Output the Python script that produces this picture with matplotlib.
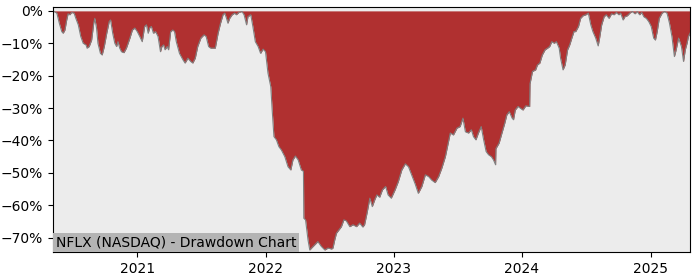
import pandas as pd
import matplotlib
matplotlib.use("Agg")
import matplotlib.pyplot as plt
import matplotlib.dates as mdates
from matplotlib.ticker import PercentFormatter

# Drawdown de NFLX (en %)
dates = [
    "2020-05-06", "2020-05-17", "2020-05-24", "2020-05-31", "2020-06-04", "2020-06-09",
    "2020-06-14", "2020-06-18", "2020-06-23", "2020-06-28", "2020-07-05", "2020-07-10",
    "2020-07-17", "2020-07-24", "2020-07-31", "2020-08-08", "2020-08-11", "2020-08-17",
    "2020-08-24", "2020-08-30", "2020-09-02", "2020-09-07", "2020-09-11", "2020-09-18",
    "2020-09-23", "2020-09-29", "2020-10-06", "2020-10-13", "2020-10-17", "2020-10-23",
    "2020-10-29", "2020-11-03", "2020-11-07", "2020-11-12", "2020-11-17", "2020-11-24",
    "2020-12-01", "2020-12-11", "2020-12-18", "2020-12-25",
    "2021-01-01", "2021-01-08", "2021-01-15", "2021-01-22", "2021-01-27", "2021-02-01",
    "2021-02-05", "2021-02-10", "2021-02-16", "2021-02-22", "2021-03-01", "2021-03-08",
    "2021-03-12", "2021-03-17", "2021-03-21", "2021-03-27", "2021-03-31", "2021-04-06",
    "2021-04-12", "2021-04-17", "2021-04-22", "2021-05-01", "2021-05-11", "2021-05-17",
    "2021-05-25", "2021-06-02", "2021-06-08", "2021-06-15", "2021-06-22", "2021-07-01",
    "2021-07-10", "2021-07-16", "2021-07-23", "2021-07-29", "2021-08-04", "2021-08-11",
    "2021-08-19", "2021-08-26", "2021-09-02", "2021-09-07", "2021-09-12", "2021-09-16",
    "2021-09-21", "2021-09-28", "2021-10-05", "2021-10-10", "2021-10-17", "2021-10-26",
    "2021-11-01", "2021-11-08", "2021-11-12", "2021-11-20", "2021-11-26", "2021-12-03",
    "2021-12-11", "2021-12-18", "2021-12-25",
    "2022-01-01", "2022-01-08", "2022-01-16", "2022-01-20", "2022-01-25", "2022-02-01",
    "2022-02-08", "2022-02-15", "2022-02-25", "2022-03-06", "2022-03-14", "2022-03-20",
    "2022-03-27", "2022-04-04", "2022-04-13", "2022-04-19", "2022-04-20", "2022-04-25",
    "2022-05-02", "2022-05-07", "2022-05-12", "2022-05-21", "2022-05-30", "2022-06-09",
    "2022-06-19", "2022-06-28", "2022-07-08", "2022-07-12", "2022-07-17", "2022-07-22",
    "2022-08-05", "2022-08-12", "2022-08-19", "2022-08-29", "2022-09-07", "2022-09-17",
    "2022-09-26", "2022-10-05", "2022-10-10", "2022-10-17", "2022-10-25", "2022-11-01",
    "2022-11-08", "2022-11-14", "2022-11-22", "2022-11-30", "2022-12-09", "2022-12-16",
    "2022-12-25",
    "2023-01-05", "2023-01-14", "2023-01-24", "2023-02-03", "2023-02-12", "2023-02-21",
    "2023-03-03", "2023-03-12", "2023-03-22", "2023-04-01", "2023-04-10", "2023-04-19",
    "2023-04-29", "2023-05-09", "2023-05-18", "2023-05-28", "2023-06-03", "2023-06-11",
    "2023-06-20", "2023-06-30", "2023-07-09", "2023-07-17", "2023-07-24", "2023-08-02",
    "2023-08-10", "2023-08-16", "2023-08-23", "2023-08-30", "2023-09-07", "2023-09-14",
    "2023-09-21", "2023-09-28", "2023-10-06", "2023-10-12", "2023-10-18", "2023-10-19",
    "2023-10-28", "2023-11-05", "2023-11-13", "2023-11-19", "2023-11-26", "2023-12-04",
    "2023-12-08", "2023-12-13", "2023-12-21", "2023-12-27",
    "2024-01-04", "2024-01-12", "2024-01-23", "2024-01-24", "2024-01-31", "2024-02-09",
    "2024-02-14", "2024-02-21", "2024-02-28", "2024-03-07", "2024-03-14", "2024-03-20",
    "2024-03-26", "2024-04-02", "2024-04-08", "2024-04-16", "2024-04-20", "2024-04-27",
    "2024-05-03", "2024-05-10", "2024-05-16", "2024-05-22", "2024-05-28", "2024-06-02",
    "2024-06-10", "2024-06-16", "2024-06-23", "2024-07-01", "2024-07-08", "2024-07-15",
    "2024-07-21", "2024-07-29", "2024-08-05", "2024-08-09", "2024-08-15", "2024-08-22",
    "2024-08-28", "2024-09-05", "2024-09-12", "2024-09-19", "2024-09-26", "2024-10-03",
    "2024-10-08", "2024-10-15", "2024-10-20", "2024-10-27", "2024-11-03", "2024-11-10",
    "2024-11-18", "2024-11-24", "2024-12-01", "2024-12-07", "2024-12-13", "2024-12-20",
    "2024-12-27",
    "2025-01-03", "2025-01-10", "2025-01-15", "2025-01-20", "2025-01-26", "2025-02-03",
    "2025-02-10", "2025-02-17", "2025-02-24", "2025-03-03", "2025-03-10", "2025-03-15",
    "2025-03-22", "2025-03-30", "2025-04-05", "2025-04-10", "2025-04-15", "2025-04-19",
    "2025-04-24",
]
drawdown = [
    0.0, -0.7, -3.8, -6.4, -6.9, -5.9,
    -2.8, -0.9, -1.2, -0.5, -0.7, -2.3,
    -4.3, -7.9, -10.0, -10.5, -11.5, -11.0,
    -9.0, -3.8, -2.3, -5.3, -10.0, -13.1,
    -13.6, -11.0, -6.9, -3.3, -2.8, -6.9,
    -10.0, -11.0, -9.5, -11.5, -12.6, -12.9,
    -11.5, -8.4, -5.9, -5.3,
    -6.4, -7.9, -9.5, -4.8, -4.3, -6.9,
    -5.3, -4.8, -6.9, -6.4, -7.9, -12.6,
    -11.0, -10.5, -12.0, -11.0, -12.0, -6.4,
    -5.9, -6.4, -9.5, -13.1, -15.1, -16.1,
    -14.6, -15.6, -16.1, -14.6, -11.0, -8.4,
    -7.4, -7.9, -11.0, -11.5, -11.5, -11.5,
    -6.9, -3.8, -1.2, -0.7, -2.3, -3.8,
    -2.3, -1.2, -0.7, -1.2, -0.5, -0.2,
    -1.2, -4.3, -1.8, -1.2, -4.8, -9.5,
    -11.0, -13.1, -11.8,
    -12.6, -19.2, -23.4, -30.6, -38.8, -39.8,
    -41.9, -42.9, -45.0, -48.1, -49.1, -46.0,
    -44.8, -46.0, -49.1, -49.5, -64.0, -64.5,
    -70.7, -73.8, -73.2, -72.2, -71.2, -72.7,
    -73.8, -73.2, -73.5, -73.2, -70.7, -68.6,
    -66.6, -64.5, -64.8, -66.6, -66.0, -66.6,
    -65.5, -66.7, -66.0, -62.4, -57.8, -60.4,
    -58.3, -56.8, -57.5, -55.2, -54.2, -56.8,
    -57.8,
    -55.2, -52.7, -49.1, -47.2, -48.1, -50.6,
    -53.4, -56.3, -54.2, -50.6, -51.1, -52.2,
    -53.0, -51.1, -48.5, -45.0, -41.9, -37.7,
    -38.3, -36.2, -35.7, -33.1, -37.3, -37.7,
    -36.7, -38.8, -39.8, -37.7, -35.7, -39.8,
    -43.4, -44.4, -45.0, -46.0, -47.5, -42.5,
    -40.8, -37.7, -34.7, -32.1, -31.1, -33.1,
    -33.6, -30.6, -29.5, -30.0,
    -30.6, -29.3, -29.5, -22.5, -18.7, -18.2,
    -16.7, -16.1, -13.6, -12.0, -11.5, -11.0,
    -9.5, -10.0, -9.5, -11.5, -14.6, -18.2,
    -16.7, -12.0, -10.5, -8.4, -6.4, -6.4,
    -4.8, -2.3, -1.5, -1.2, -0.7, -4.3,
    -6.4, -8.4, -10.8, -8.4, -4.3, -1.8,
    -1.2, -2.3, -0.9, -1.2, -0.5, -1.2,
    -0.7, -2.8, -1.8, -1.5, -0.7, -0.2,
    -0.9, -0.2, -1.2, -0.5, -1.8, -2.3,
    -3.3,
    -4.8, -8.4, -9.0, -6.4, -2.3, -0.7,
    -0.2, -0.7, -3.8, -7.9, -14.1, -12.0,
    -8.4, -11.0, -15.6, -12.0, -10.0, -7.9,
    -6.8,
]

dd = pd.Series(drawdown, index=pd.to_datetime(dates))

fig = plt.figure(figsize=(7, 2.8), dpi=100)
ax = fig.add_axes([0.0757, 0.099, 0.9103, 0.876])
ax.set_facecolor("#ececec")

ax.fill_between(dd.index, dd.values, 0, color="#b03030", linewidth=0)
ax.plot(dd.index, dd.values, color="gray", linewidth=0.8)

ax.set_xlim(pd.Timestamp("2020-05-06"), pd.Timestamp("2025-04-24"))
ax.set_ylim(-74.5, 1.2)
ax.set_yticks(range(-70, 1, 10))
ax.yaxis.set_major_formatter(PercentFormatter(decimals=0))
ax.xaxis.set_major_locator(mdates.YearLocator())
ax.xaxis.set_major_formatter(mdates.DateFormatter("%Y"))

ax.text(0.005, 0.012, "NFLX (NASDAQ) - Drawdown Chart", transform=ax.transAxes,
        fontsize=10, ha="left", va="bottom",
        bbox=dict(facecolor="#b4b4b4", edgecolor="none", pad=2))

fig.savefig("out.png", dpi=100)
